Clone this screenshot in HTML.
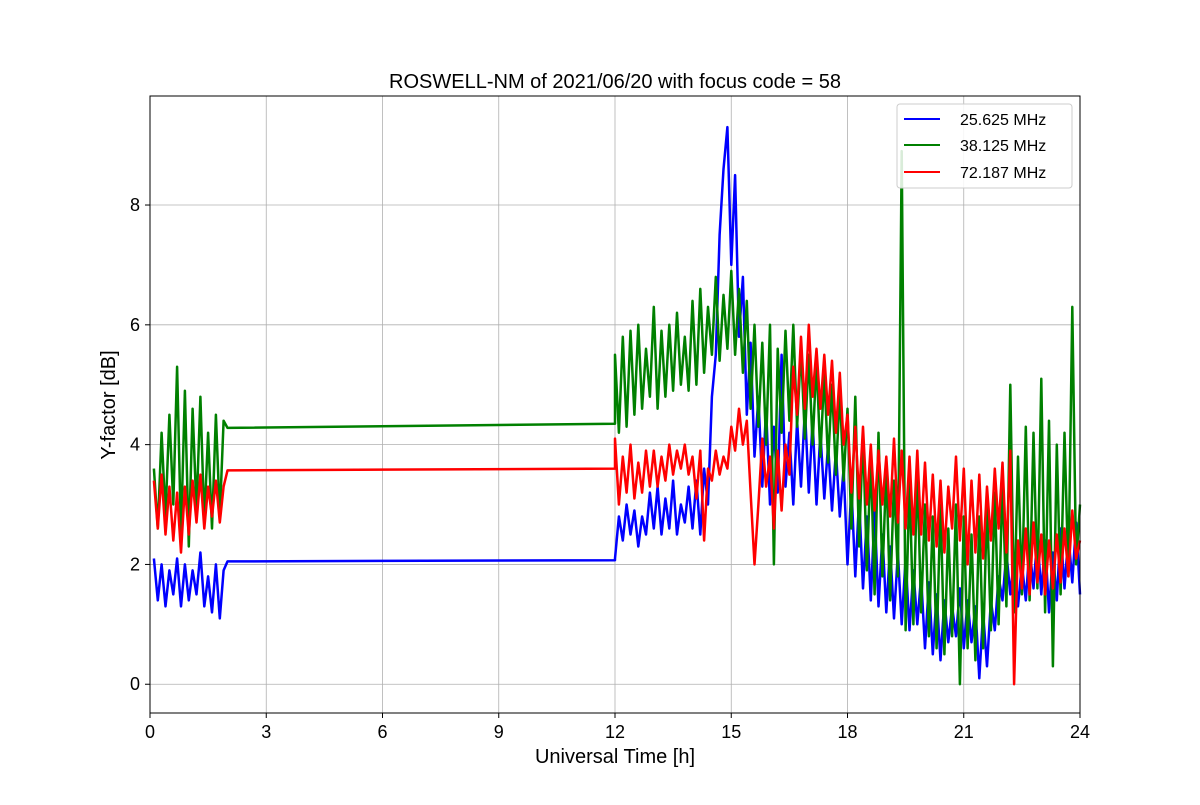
<!DOCTYPE html>
<html><head><meta charset="utf-8"><style>
body{margin:0;background:#fff;}
svg text{font-family:"Liberation Sans","DejaVu Sans",sans-serif;}
</style></head><body>
<svg id="chart" width="1200" height="800" xmlns="http://www.w3.org/2000/svg">
<rect width="1200" height="800" fill="#fff"/>
<g id="grid"></g>
<g id="series"></g>
<rect x="150" y="96" width="930" height="617" fill="none" stroke="#000" stroke-width="1"/>
<g id="ticks"></g>
<text x="615" y="88" font-size="20" text-anchor="middle">ROSWELL-NM of 2021/06/20 with focus code = 58</text>
<text x="615" y="763" font-size="20" text-anchor="middle">Universal Time [h]</text>
<text transform="translate(115,405) rotate(-90)" font-size="20" text-anchor="middle">Y-factor [dB]</text>
<g>
<rect x="897" y="104" width="175" height="84" rx="3" fill="#fff" fill-opacity="0.85" stroke="#ccc"/>
<line x1="904" y1="119" x2="940" y2="119" stroke="blue" stroke-width="2"/>
<text x="960" y="125" font-size="16">25.625 MHz</text>
<line x1="904" y1="145" x2="940" y2="145" stroke="green" stroke-width="2"/>
<text x="960" y="151" font-size="16">38.125 MHz</text>
<line x1="904" y1="172" x2="940" y2="172" stroke="red" stroke-width="2"/>
<text x="960" y="178" font-size="16">72.187 MHz</text>
</g>
</svg>
<script>
const xTicks=[0,3,6,9,12,15,18,21,24];
const yTicks=[0,2,4,6,8];
const morningStart=0.1, dayStart=12.0, stepH=0.1;
const blueMorning=[2.1,1.4,2.0,1.3,1.9,1.5,2.1,1.3,2.0,1.4,1.9,1.5,2.2,1.3,1.8,1.2,2.0,1.1,1.9,2.05];
const greenMorning=[3.6,2.6,4.2,2.8,4.5,3.0,5.3,2.5,4.9,2.3,4.6,2.9,4.8,2.7,4.2,2.6,4.5,2.8,4.4,4.28];
const redMorning=[3.4,2.6,3.5,2.5,3.3,2.4,3.2,2.2,3.3,2.5,3.4,2.7,3.5,2.6,3.3,2.8,3.4,2.7,3.3,3.57];
const blueGapEnd=2.07, greenGapEnd=4.35, redGapEnd=3.60;
const blueDay=[2.1,2.8,2.4,3.0,2.5,2.9,2.3,2.8,2.5,3.2,
2.6,3.3,2.5,3.1,2.6,3.4,2.5,3.0,2.7,3.3,
2.6,3.4,2.5,3.6,3.0,4.8,5.5,7.5,8.6,9.3,
7.0,8.5,5.8,6.8,4.5,5.7,3.8,4.8,3.3,4.6,
3.0,4.3,3.2,5.5,3.3,4.2,3.0,4.4,3.3,4.6,
3.2,4.4,3.0,4.2,3.1,4.0,2.9,3.9,2.8,3.6,
2.0,3.3,1.8,3.1,1.6,2.8,1.4,2.9,1.3,2.5,
1.2,2.3,1.1,2.2,1.0,2.1,0.9,1.9,1.0,1.8,
0.6,1.7,0.5,1.5,0.4,1.4,0.7,1.3,0.8,1.6,
0.6,1.4,0.7,1.3,0.1,1.2,0.3,1.4,0.9,1.8,
1.4,2.2,1.5,2.1,1.3,2.0,1.4,2.3,1.6,2.5,
1.5,2.4,1.2,2.2,1.4,2.6,1.6,2.5,1.7,2.7,1.5];
const greenDay=[5.5,4.2,5.8,4.3,5.9,4.5,6.0,4.6,5.6,4.8,
6.3,4.6,5.9,4.8,6.0,4.9,6.2,5.0,5.8,4.9,
6.4,5.0,6.6,5.2,6.3,5.5,6.8,5.4,6.5,5.6,
6.9,5.5,6.6,5.2,6.4,4.6,6.0,4.3,5.7,4.0,
6.0,2.0,5.6,4.2,5.9,4.4,6.0,4.3,5.6,4.1,
5.5,4.0,5.4,3.8,5.2,3.7,5.0,3.5,4.9,3.4,
4.6,2.6,4.8,2.3,4.2,1.9,3.8,1.5,4.2,1.8,
3.6,1.4,3.4,1.8,8.9,0.9,3.4,1.0,3.6,1.2,
3.0,0.8,2.8,0.6,3.0,0.5,2.6,0.8,3.0,0.0,
2.8,0.6,2.5,0.4,2.8,0.6,3.0,0.9,3.2,1.0,
3.4,1.3,5.0,1.2,3.8,1.5,4.3,1.4,4.2,1.6,
5.1,1.2,4.4,0.3,4.0,1.5,4.2,1.8,6.3,2.0,3.0];
const redDay=[4.1,3.0,3.8,3.2,4.0,3.1,3.7,3.2,3.9,3.3,
3.9,3.3,3.8,3.4,4.0,3.5,3.9,3.6,4.0,3.5,
3.8,3.1,3.9,2.4,3.6,3.4,3.9,3.5,3.8,3.6,
4.3,3.9,4.6,4.0,4.4,3.2,2.0,3.0,4.1,3.3,
3.8,2.6,3.9,2.9,4.0,3.5,5.3,4.5,5.8,4.6,
6.0,4.8,5.6,4.6,5.5,4.5,5.4,4.2,5.2,4.0,
4.5,3.2,4.3,3.1,4.3,3.0,4.0,2.9,3.9,3.0,
3.8,2.8,4.1,2.7,3.9,2.6,3.8,2.5,3.9,2.5,
3.7,2.4,3.5,2.3,3.4,2.2,3.3,2.6,3.8,2.4,
3.6,2.0,3.4,2.2,3.5,2.1,3.3,2.4,3.6,2.6,
3.7,2.2,3.9,0.0,2.4,1.6,2.6,1.5,2.7,1.7,
2.5,1.5,2.4,1.6,2.5,1.7,2.6,1.8,2.9,2.1,2.4];

const X0=150,X1=1080,Y0=713,Y1=96,xMin=0,xMax=24,yMin=-0.48,yMax=9.82;
const xs=v=>X0+(v-xMin)/(xMax-xMin)*(X1-X0);
const ys=v=>Y0-(v-yMin)/(yMax-yMin)*(Y0-Y1);
const NS="http://www.w3.org/2000/svg";
const grid=document.getElementById('grid'),ticks=document.getElementById('ticks'),ser=document.getElementById('series');
function mk(tag,attrs,parent){const e=document.createElementNS(NS,tag);for(const k in attrs)e.setAttribute(k,attrs[k]);parent.appendChild(e);return e;}
xTicks.forEach(t=>{
  const g=mk('line',{x1:xs(t),x2:xs(t),y1:Y1,y2:Y0,stroke:'#b0b0b0','stroke-width':0.8},grid);
  
  
  mk('line',{x1:xs(t),x2:xs(t),y1:Y0,y2:Y0+5,stroke:'#000'},ticks);
  const l=mk('text',{x:xs(t),y:Y0+25,'font-size':18,'text-anchor':'middle'},ticks);
  l.textContent=t;
  
  
});
yTicks.forEach(t=>{
  const g=mk('line',{x1:X0,x2:X1,y1:ys(t),y2:ys(t),stroke:'#b0b0b0','stroke-width':0.8},grid);
  
  
  mk('line',{x1:X0-5,x2:X0,y1:ys(t),y2:ys(t),stroke:'#000'},ticks);
  const l=mk('text',{x:X0-10,y:ys(t)+6,'font-size':18,'text-anchor':'end'},ticks);
  l.textContent=t;
  
  
});
function series(morning,gapEnd,day,color,name){
  const pts=[];
  morning.forEach((v,i)=>pts.push([morningStart+i*stepH,v]));
  pts.push([dayStart,gapEnd]);
  day.forEach((v,i)=>pts.push([dayStart+i*stepH,v]));
  const d=pts.map((p,i)=>(i?'L':'M')+xs(p[0]).toFixed(1)+','+ys(p[1]).toFixed(1)).join('');
  const p=mk('path',{d:d,fill:'none',stroke:color,'stroke-width':2.5,'stroke-linejoin':'round'},ser);
  
  
}
series(blueMorning,blueGapEnd,blueDay,'blue','series-25mhz');
series(greenMorning,greenGapEnd,greenDay,'green','series-38mhz');
series(redMorning,redGapEnd,redDay,'red','series-72mhz');
</script>
</body></html>
